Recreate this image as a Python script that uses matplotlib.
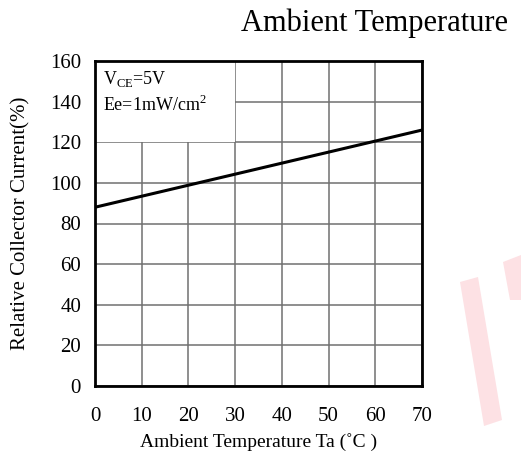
import matplotlib.pyplot as plt
from matplotlib.patches import Rectangle, Polygon

plt.rcParams['font.family'] = ['Liberation Serif', 'DejaVu Serif']

# data
temp = [0, 70]
current = [88, 126]
x_ticks = [0, 10, 20, 30, 40, 50, 60, 70]
y_ticks = [0, 20, 40, 60, 80, 100, 120, 140, 160]

W, H = 521, 468
fig = plt.figure(figsize=(W / 100, H / 100), dpi=100)
ax = fig.add_axes([95 / W, 1 - 386 / H, 327 / W, 325 / H])

ax.set_xlim(0, 70)
ax.set_ylim(0, 160)
ax.set_xticks(x_ticks)
ax.set_yticks(y_ticks)
ax.grid(True, color='#707070', linewidth=1.1)
ax.tick_params(length=0, labelsize=15)
ax.tick_params(axis='x', pad=15)
ax.tick_params(axis='y', pad=10)
for s in ax.spines.values():
    s.set_linewidth(2)

# blank area behind the conditions text
ax.add_patch(Rectangle((0, 120), 30, 40, facecolor='white', edgecolor='none', zorder=2))
ax.text(1.8, 151, r'V$_{\mathregular{CE}}$=5V', fontsize=13, va='center', zorder=3)
ax.text(1.8, 138.5, r'Ee=1mW/cm$^{\mathregular{2}}$', fontsize=13, va='center', zorder=3)

ax.plot(temp, current, color='black', linewidth=2.2, zorder=4)

ax.set_xlabel('Ambient Temperature Ta (\u02daC )', fontsize=14, labelpad=5)
ax.set_ylabel('Relative Collector Current(%)', fontsize=15, labelpad=14)

fig.text(508 / W, 1 - 23 / H, 'Ambient Temperature', fontsize=22, ha='right', va='center')

# faint watermark
def px(pts):
    return [(x / W, 1 - y / H) for x, y in pts]

fig.patches.append(Polygon(px([(460, 282), (478, 277), (502, 420), (484, 426)]),
                           closed=True, transform=fig.transFigure,
                           facecolor='#fde1e4', edgecolor='none'))
fig.patches.append(Polygon(px([(503, 262), (521, 255), (521, 300), (510, 300)]),
                           closed=True, transform=fig.transFigure,
                           facecolor='#fde1e4', edgecolor='none'))

fig.savefig('out.png', dpi=100)
